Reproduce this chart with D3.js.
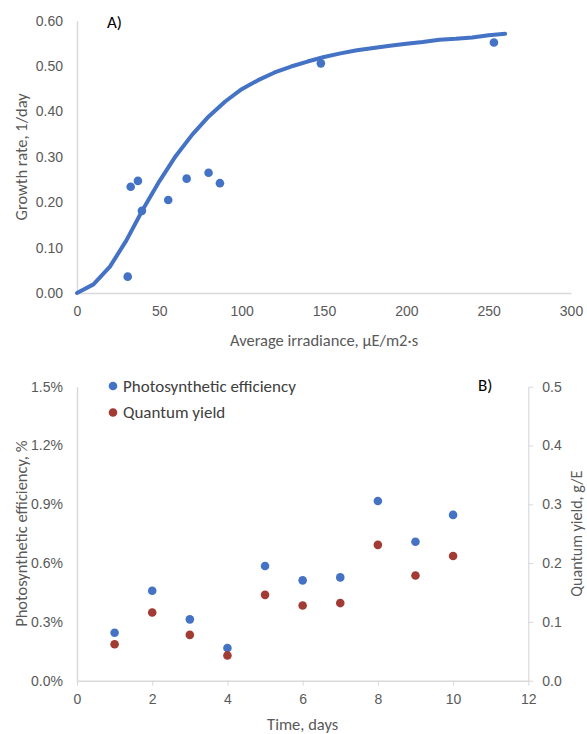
<!DOCTYPE html>
<html>
<head>
<meta charset="utf-8">
<script src="https://cdn.jsdelivr.net/npm/d3@7"></script>
<style>
  body { margin: 0; background: #fff; }
  svg { display: block; font-family: Carlito, Lato, "Open Sans", sans-serif; }
  .axis path, .axis line { stroke: #d9d9d9; }
  .axis text { fill: #595959; font-size: 14px; }
</style>
</head>
<body>
<div id="viz"></div>
<script>
const width = 587;
const height = 734;
const blue = '#4472c4';
const red = '#a23b33';

// Panel A: measured growth vs irradiance, plus model curve
const irradiance = [30.8, 32.6, 37.0, 39.4, 55.4, 66.6, 79.9, 86.8, 148.1, 253.2];
const growthRate = [0.036, 0.234, 0.247, 0.181, 0.205, 0.252, 0.265, 0.242, 0.506, 0.552];
const modelIrradiance = [0, 10, 20, 30, 40, 50, 60, 70, 80, 90, 100, 110, 120, 130, 140, 150, 160, 170, 180, 190, 200, 210, 220, 230, 240, 250, 260];
const modelGrowth = [0, 0.019, 0.058, 0.116, 0.184, 0.246, 0.302, 0.349, 0.389, 0.422, 0.449, 0.469, 0.486, 0.499, 0.510, 0.520, 0.528, 0.535, 0.540, 0.545, 0.549, 0.553, 0.558, 0.560, 0.563, 0.568, 0.571];
const xTicksA = [0, 50, 100, 150, 200, 250, 300];
const yTicksA = [0, 0.1, 0.2, 0.3, 0.4, 0.5, 0.6];

// Panel B: efficiency and quantum yield per day
const days = [1, 2, 3, 4, 5, 6, 7, 8, 9, 10];
const efficiency = [0.00245, 0.00459, 0.00313, 0.00167, 0.00585, 0.00512, 0.00527, 0.00917, 0.00709, 0.00846];
const quantumYield = [0.062, 0.116, 0.078, 0.043, 0.146, 0.128, 0.132, 0.231, 0.179, 0.212];
const xTicksB = [0, 2, 4, 6, 8, 10, 12];
const yTicksBLeft = [0, 0.003, 0.006, 0.009, 0.012, 0.015];
const yTicksBRight = [0, 0.1, 0.2, 0.3, 0.4, 0.5];

const svg = d3.select('#viz')
  .append('svg')
    .attr('width', width)
    .attr('height', height);

// ---------- Panel A ----------
const xA = d3.scaleLinear().domain([0, 300]).range([77, 571]);
const yA = d3.scaleLinear().domain([0, 0.6]).range([293, 20.7]);

svg.append('g')
    .attr('class', 'axis')
    .attr('transform', `translate(0, ${yA(0)})`)
  .call(d3.axisBottom(xA).tickValues(xTicksA).tickSize(0).tickPadding(13).tickSizeOuter(0))
  .call(g => g.select('.domain').attr('stroke-width', 1.5));

svg.append('g')
    .attr('class', 'axis')
    .attr('transform', `translate(${xA(0)}, 0)`)
  .call(d3.axisLeft(yA).tickValues(yTicksA).tickFormat(d3.format('.2f')).tickSize(0).tickPadding(14).tickSizeOuter(0))
  .call(g => g.select('.domain').attr('stroke-width', 1.5));

svg.append('text')
    .attr('x', (xA(0) + xA(300)) / 2)
    .attr('y', 346)
    .attr('text-anchor', 'middle')
    .attr('fill', '#595959')
    .style('font-size', '16.5px')
    .text('Average irradiance, \u03bcE/m2\u00b7s');

svg.append('text')
    .attr('transform', `translate(27, ${(yA(0) + yA(0.6)) / 2}) rotate(-90)`)
    .attr('text-anchor', 'middle')
    .attr('fill', '#595959')
    .style('font-size', '16.5px')
    .text('Growth rate, 1/day');

svg.append('text')
    .attr('x', 107)
    .attr('y', 28)
    .attr('fill', '#000')
    .style('font-size', '17px')
    .text('A)');

const line = d3.line()
  .x((d, i) => xA(modelIrradiance[i]))
  .y(d => yA(d));

svg.append('path')
    .attr('d', line(modelGrowth))
    .attr('fill', 'none')
    .attr('stroke', blue)
    .attr('stroke-width', 4)
    .attr('stroke-linejoin', 'round')
    .attr('stroke-linecap', 'round');

svg.append('g')
    .attr('fill', blue)
  .selectAll('circle')
  .data(growthRate)
  .join('circle')
    .attr('cx', (d, i) => xA(irradiance[i]))
    .attr('cy', d => yA(d))
    .attr('r', 4.3);

// ---------- Panel B ----------
const xB = d3.scaleLinear().domain([0, 12]).range([77, 528.3]);
const yBL = d3.scaleLinear().domain([0, 0.015]).range([680.7, 386.7]);
const yBR = d3.scaleLinear().domain([0, 0.5]).range([680.7, 386.7]);

svg.append('g')
    .attr('class', 'axis')
    .attr('transform', `translate(0, ${yBL(0)})`)
  .call(d3.axisBottom(xB).tickValues(xTicksB).tickSize(5).tickPadding(8).tickSizeOuter(0))
  .call(g => g.select('.domain').attr('stroke-width', 1.5));

svg.append('g')
    .attr('class', 'axis')
    .attr('transform', `translate(${xB(0)}, 0)`)
  .call(d3.axisLeft(yBL).tickValues(yTicksBLeft).tickFormat(d3.format('.1%')).tickSize(0).tickPadding(14).tickSizeOuter(0))
  .call(g => g.select('.domain').attr('stroke-width', 1.5));

svg.append('g')
    .attr('class', 'axis')
    .attr('transform', `translate(${xB(12)}, 0)`)
  .call(d3.axisRight(yBR).tickValues(yTicksBRight).tickFormat(d3.format('.1f')).tickSize(5).tickPadding(9).tickSizeOuter(0))
  .call(g => g.select('.domain').attr('stroke-width', 1.2));

svg.append('text')
    .attr('x', (xB(0) + xB(12)) / 2)
    .attr('y', 730)
    .attr('text-anchor', 'middle')
    .attr('fill', '#595959')
    .style('font-size', '16.5px')
    .text('Time, days');

svg.append('text')
    .attr('transform', `translate(27, ${(yBL(0) + yBL(0.015)) / 2}) rotate(-90)`)
    .attr('text-anchor', 'middle')
    .attr('fill', '#595959')
    .style('font-size', '16.5px')
    .text('Photosynthetic efficiency, %');

svg.append('text')
    .attr('transform', `translate(582, ${(yBR(0) + yBR(0.5)) / 2}) rotate(-90)`)
    .attr('text-anchor', 'middle')
    .attr('fill', '#595959')
    .style('font-size', '16px')
    .text('Quantum yield, g/E');

svg.append('text')
    .attr('x', 478)
    .attr('y', 391)
    .attr('fill', '#000')
    .style('font-size', '17px')
    .text('B)');

svg.append('g')
    .attr('fill', blue)
  .selectAll('circle')
  .data(efficiency)
  .join('circle')
    .attr('cx', (d, i) => xB(days[i]))
    .attr('cy', d => yBL(d))
    .attr('r', 4.3);

svg.append('g')
    .attr('fill', red)
  .selectAll('circle')
  .data(quantumYield)
  .join('circle')
    .attr('cx', (d, i) => xB(days[i]))
    .attr('cy', d => yBR(d))
    .attr('r', 4.3);

// Legend
const legendItems = [
  {label: 'Photosynthetic efficiency', color: blue},
  {label: 'Quantum yield', color: red}
];
const legend = svg.append('g')
    .attr('transform', 'translate(113, 386)');
legend.selectAll('circle')
  .data(legendItems)
  .join('circle')
    .attr('cx', 0)
    .attr('cy', (d, i) => i * 26.5)
    .attr('r', 4.3)
    .attr('fill', d => d.color);
legend.selectAll('text')
  .data(legendItems)
  .join('text')
    .attr('x', 10)
    .attr('y', (d, i) => i * 26.5)
    .attr('dy', '0.35em')
    .attr('fill', '#404040')
    .style('font-size', '17px')
    .text(d => d.label);
</script>
</body>
</html>
